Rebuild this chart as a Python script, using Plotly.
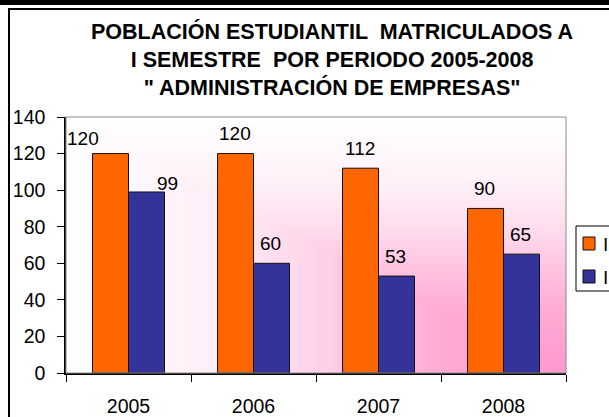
"""Matriculados I semestre 2005-2008, Administración de Empresas."""

import base64

import plotly.graph_objects as go

YEARS = ["2005", "2006", "2007", "2008"]
SERIES_NAMES = ["I SEMESTRE", "II SEMESTRE"]
SERIES_1 = [120, 120, 112, 90]
SERIES_2 = [99, 60, 53, 65]
Y_TICKS = [0, 20, 40, 60, 80, 100, 120, 140]
TITLE_LINES = [
    "POBLACIÓN ESTUDIANTIL  MATRICULADOS A",
    "I SEMESTRE  POR PERIODO 2005-2008",
    "\" ADMINISTRACIÓN DE EMPRESAS\"",
]

COLORS = ["#FF6600", "#333399"]
FONT = "Liberation Sans, Arial, sans-serif"
W, H = 609, 417
PL, PR, PT, PB = 66, 566, 117, 373


def px_x(px):
    return (px - PL) / (PR - PL)


def px_y(py):
    return (PB - py) / (PB - PT)


# "from corner" gradient: white at top/left, pink toward bottom-right
stops = (
    '<stop offset="0" stop-color="#ffffff"/>'
    '<stop offset="0.15" stop-color="#fff7fb"/>'
    '<stop offset="0.3" stop-color="#ffedf6"/>'
    '<stop offset="0.45" stop-color="#ffdaed"/>'
    '<stop offset="0.6" stop-color="#ffc2e1"/>'
    '<stop offset="0.75" stop-color="#ffabd5"/>'
    '<stop offset="1" stop-color="#ff99cc"/>'
)
svg = (
    '<svg xmlns="http://www.w3.org/2000/svg" width="100" height="100" '
    'viewBox="0 0 100 100" preserveAspectRatio="none"><defs>'
    f'<linearGradient id="h" x1="0" y1="0" x2="1" y2="0">{stops}</linearGradient>'
    f'<linearGradient id="v" x1="0" y1="0" x2="0" y2="1">{stops}</linearGradient>'
    '</defs><rect x="0" y="0" width="100" height="100" fill="url(#v)"/>'
    '<polygon points="0,0 0,100 100,100" fill="url(#h)"/></svg>'
)
bg_src = "data:image/svg+xml;base64," + base64.b64encode(svg.encode()).decode()

fig = go.Figure()
for name, values, color in zip(SERIES_NAMES, [SERIES_1, SERIES_2], COLORS):
    fig.add_trace(
        go.Bar(
            x=YEARS,
            y=values,
            name=name,
            marker={"color": color, "line": {"color": "#111111", "width": 1}},
            showlegend=False,
        )
    )

annotations = []
# data labels, Excel moved the two 2005 labels apart
overrides = {(0, 0): (-46, 15), (1, 0): (39, 8)}
for s, values in enumerate([SERIES_1, SERIES_2]):
    for i, v in enumerate(values):
        dx, dy = overrides.get((s, i), (-19 if s == 0 else 17, 20))
        annotations.append(
            dict(
                x=i, y=v, text=str(v), showarrow=False,
                xshift=dx, yshift=dy, yanchor="middle",
                font={"size": 19, "color": "#000000", "family": FONT},
            )
        )

annotations.append(
    dict(
        xref="paper", yref="paper", x=px_x(332), y=px_y(17), yanchor="top",
        text="<br>".join(TITLE_LINES), showarrow=False, align="center",
        font={"size": 21.5, "color": "#000000", "family": FONT, "weight": "bold"},
    )
)

shapes = [
    # page band and chart frame
    dict(type="rect", xref="paper", yref="paper", x0=px_x(-10), x1=px_x(700),
         y0=px_y(5), y1=px_y(-10), fillcolor="#000000", line={"width": 0}),
    dict(type="rect", xref="paper", yref="paper", x0=px_x(9), x1=px_x(700),
         y0=px_y(500), y1=px_y(9), line={"color": "#000000", "width": 2}),
    # plot area border
    dict(type="rect", xref="paper", yref="paper", x0=0, x1=1, y0=0, y1=1,
         line={"color": "#8a8a8a", "width": 1}),
    # legend box
    dict(type="rect", xref="paper", yref="paper", x0=px_x(576), x1=px_x(680),
         y0=px_y(291), y1=px_y(226), fillcolor="#ffffff",
         line={"color": "#000000", "width": 1}),
]
for k, (name, color) in enumerate(zip(SERIES_NAMES, COLORS)):
    top = 237 + 33 * k
    shapes.append(
        dict(type="rect", xref="paper", yref="paper", x0=px_x(583), x1=px_x(595),
             y0=px_y(top + 13), y1=px_y(top), fillcolor=color,
             line={"color": "#111111", "width": 1})
    )
    annotations.append(
        dict(xref="paper", yref="paper", x=px_x(601), y=px_y(top + 7), text=name,
             xanchor="left", yanchor="middle", showarrow=False,
             font={"size": 19, "color": "#000000", "family": FONT})
    )

fig.update_layout(
    width=W,
    height=H,
    margin={"l": PL, "r": W - PR, "t": PT, "b": H - PB, "autoexpand": False},
    paper_bgcolor="#ffffff",
    plot_bgcolor="rgba(0,0,0,0)",
    barmode="group",
    bargap=0.424,
    bargroupgap=0,
    showlegend=False,
    font={"family": FONT, "size": 19.5, "color": "#000000"},
    annotations=annotations,
    shapes=shapes,
    images=[
        dict(source=bg_src, xref="paper", yref="paper", x=0, y=1, sizex=1, sizey=1,
             xanchor="left", yanchor="top", sizing="stretch", layer="below")
    ],
)
fig.update_xaxes(
    type="category",
    range=[-0.5, 3.5],
    tickson="boundaries",
    ticks="outside",
    ticklen=7,
    tickcolor="#000000",
    showline=True,
    linecolor="#000000",
    linewidth=1.5,
    showgrid=False,
    ticklabelstandoff=15,
)
fig.update_yaxes(
    range=[0, 140],
    tickvals=Y_TICKS,
    ticks="outside",
    ticklen=7,
    tickcolor="#000000",
    showline=True,
    linecolor="#000000",
    linewidth=1.5,
    showgrid=False,
    zeroline=False,
    ticklabelstandoff=8,
)

fig.write_html(
    "out.html",
    config={"displayModeBar": False},
    post_script="document.body.style.margin = '0';",
)
